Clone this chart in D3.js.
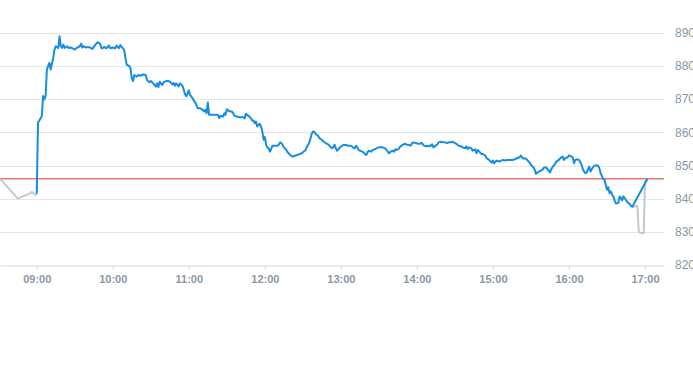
<!DOCTYPE html>
<html>
<head>
<meta charset="utf-8">
<script src="https://cdnjs.cloudflare.com/ajax/libs/d3/7.8.5/d3.min.js"></script>
<style>
  body { margin: 0; background: #fff; }
  svg { display: block; font-family: "Liberation Sans", Arial, sans-serif; }
</style>
</head>
<body>
<div id="chart"></div>
<script>
const prevClose = 846;
const yTicks = [820, 830, 840, 850, 860, 870, 880, 890];
const xTickLabels = ["09:00", "10:00", "11:00", "12:00", "13:00", "14:00", "15:00", "16:00", "17:00"];
const timeDomain = ["08:31", "17:15"];

// pre-market / after-close prints (grey)
const preMarket = [
  ["08:31", 846.0], ["08:45", 840.1], ["08:55", 841.6], ["08:56", 842.1],
  ["08:59", 841.1], ["09:00", 841.5]
];
const postMarket = [
  ["16:50", 837.6], ["16:54", 837.8], ["16:55", 830.5], ["16:56", 829.7],
  ["16:59", 829.6], ["17:00", 845.2], ["17:02", 846.0]
];

// main session (blue)
const session = [
  ["09:00", 841.5], ["09:01", 863], ["09:02", 863.5], ["09:04", 865], ["09:05", 871],
  ["09:06", 870], ["09:07", 871], ["09:08", 879], ["09:10", 881], ["09:11", 879],
  ["09:13", 882.5], ["09:14", 885], ["09:15", 886], ["09:17", 885.5], ["09:18", 889],
  ["09:19", 886], ["09:20", 885.5], ["09:21", 886.5], ["09:22", 885.5], ["09:24", 886],
  ["09:25", 885.5], ["09:27", 885.6], ["09:29", 885.2], ["09:30", 885], ["09:32", 885.6],
  ["09:34", 886], ["09:35", 886.8], ["09:36", 885.6], ["09:37", 886], ["09:39", 885.6],
  ["09:40", 885.8], ["09:42", 885.6], ["09:44", 885.2], ["09:45", 885.8], ["09:47", 886.8],
  ["09:48", 887.2], ["09:50", 886.8], ["09:51", 885.4], ["09:52", 885.4], ["09:53", 885.8],
  ["09:55", 885.4], ["09:56", 885.8], ["09:57", 886.2], ["09:58", 885.4], ["10:00", 885.6],
  ["10:02", 885.4], ["10:03", 886.2], ["10:05", 885.4], ["10:06", 886.4], ["10:07", 885.8],
  ["10:09", 884.9], ["10:10", 882.4], ["10:11", 880.4], ["10:13", 880.1], ["10:14", 879.3],
  ["10:15", 876.3], ["10:16", 875.5], ["10:17", 877.3], ["10:19", 876.8], ["10:20", 877.3],
  ["10:22", 877.1], ["10:24", 877.5], ["10:26", 877.3], ["10:27", 875.8], ["10:29", 875.1],
  ["10:30", 875.5], ["10:32", 874.8], ["10:34", 873.8], ["10:35", 874.8], ["10:36", 873.7],
  ["10:37", 875.3], ["10:39", 874.3], ["10:40", 875.1], ["10:42", 875.5], ["10:44", 875.5],
  ["10:45", 875.3], ["10:47", 874.5], ["10:48", 874.9], ["10:49", 874.1], ["10:50", 874.8],
  ["10:52", 873.9], ["10:53", 874.8], ["10:55", 874.1], ["10:56", 872.9], ["10:57", 871.5],
  ["10:58", 870.9], ["10:59", 871.8], ["11:00", 872.7], ["11:01", 871.3], ["11:03", 870.3],
  ["11:04", 869.5], ["11:05", 869.1], ["11:06", 868.3], ["11:07", 867.3], ["11:09", 867.3],
  ["11:11", 866.8], ["11:12", 866.3], ["11:13", 866.8], ["11:14", 865.8], ["11:15", 869.0],
  ["11:16", 865.3], ["11:17", 865.3], ["11:19", 865.3], ["11:21", 865.3], ["11:23", 865.3],
  ["11:24", 864.3], ["11:25", 865.0], ["11:27", 864.8], ["11:28", 865.8], ["11:29", 865.3],
  ["11:30", 867.0], ["11:31", 866.6], ["11:33", 866.3], ["11:34", 866.3], ["11:35", 865.8],
  ["11:36", 865.0], ["11:38", 864.8], ["11:39", 864.6], ["11:41", 864.6], ["11:43", 864.6],
  ["11:44", 864.2], ["11:45", 865.6], ["11:46", 865.3], ["11:47", 865.0], ["11:49", 864.3],
  ["11:50", 863.6], ["11:51", 863.6], ["11:52", 862.8], ["11:53", 863.3], ["11:54", 861.8],
  ["11:55", 862.3], ["11:56", 862.6], ["11:57", 861.8], ["11:58", 860.3], ["11:59", 857.8],
  ["12:00", 858.6], ["12:01", 856.3], ["12:02", 855.5], ["12:03", 855.2], ["12:04", 854.2],
  ["12:05", 855.0], ["12:06", 856.0], ["12:08", 856.0], ["12:10", 856.0], ["12:11", 856.3],
  ["12:12", 857.0], ["12:13", 856.8], ["12:14", 856.3], ["12:15", 855.5], ["12:17", 854.7],
  ["12:18", 854.0], ["12:20", 853.2], ["12:22", 852.7], ["12:23", 852.9], ["12:25", 853.1],
  ["12:26", 853.3], ["12:28", 853.5], ["12:30", 854.0], ["12:32", 854.6], ["12:33", 855.5],
  ["12:35", 856.8], ["12:36", 858.2], ["12:37", 859.6], ["12:38", 860.3], ["12:39", 860.2],
  ["12:40", 859.6], ["12:42", 859.0], ["12:43", 858.3], ["12:45", 857.8], ["12:46", 857.3],
  ["12:48", 856.8], ["12:50", 856.4], ["12:51", 856.0], ["12:53", 855.2], ["12:54", 855.5],
  ["12:55", 856.3], ["12:56", 855.2], ["12:57", 854.5], ["12:58", 854.9], ["12:59", 855.4],
  ["13:01", 856.0], ["13:02", 856.2], ["13:04", 856.2], ["13:06", 856.0], ["13:08", 856.0],
  ["13:10", 855.4], ["13:11", 855.2], ["13:12", 856.0], ["13:13", 855.5], ["13:14", 854.7],
  ["13:15", 854.5], ["13:17", 854.2], ["13:18", 853.9], ["13:20", 853.2], ["13:21", 853.9],
  ["13:22", 854.5], ["13:24", 854.2], ["13:25", 854.7], ["13:27", 854.9], ["13:28", 855.2],
  ["13:30", 855.5], ["13:32", 855.5], ["13:33", 855.5], ["13:35", 855.2], ["13:36", 854.7],
  ["13:38", 853.7], ["13:39", 854.1], ["13:41", 854.5], ["13:42", 854.2], ["13:43", 854.9],
  ["13:44", 854.7], ["13:46", 855.2], ["13:47", 855.8], ["13:49", 856.3], ["13:51", 856.6],
  ["13:52", 856.3], ["13:54", 856.2], ["13:55", 856.0], ["13:56", 856.6], ["13:57", 857.0],
  ["13:59", 856.8], ["14:01", 856.6], ["14:02", 856.6], ["14:04", 856.8], ["14:05", 856.2],
  ["14:07", 855.8], ["14:08", 856.0], ["14:10", 855.8], ["14:12", 856.4], ["14:13", 855.5],
  ["14:14", 855.8], ["14:16", 856.3], ["14:17", 857.0], ["14:19", 857.2], ["14:21", 857.0],
  ["14:22", 857.0], ["14:24", 856.8], ["14:25", 857.0], ["14:27", 857.0], ["14:28", 857.2],
  ["14:30", 856.8], ["14:32", 856.3], ["14:33", 856.0], ["14:35", 855.8], ["14:36", 855.5],
  ["14:38", 855.2], ["14:39", 855.8], ["14:40", 855.0], ["14:41", 855.5], ["14:43", 855.2],
  ["14:44", 854.5], ["14:46", 854.9], ["14:47", 853.7], ["14:48", 854.7], ["14:50", 853.9],
  ["14:51", 853.5], ["14:52", 853.5], ["14:54", 853.0], ["14:55", 852.2], ["14:56", 852.0],
  ["14:57", 851.7], ["14:59", 850.9], ["15:00", 851.5], ["15:01", 850.7], ["15:02", 851.2],
  ["15:03", 851.5], ["15:05", 851.2], ["15:06", 851.4], ["15:08", 851.7], ["15:09", 851.5],
  ["15:11", 851.7], ["15:13", 851.7], ["15:14", 851.7], ["15:16", 851.7], ["15:17", 851.9],
  ["15:19", 852.2], ["15:21", 852.5], ["15:22", 853.0], ["15:24", 852.1], ["15:26", 852.1],
  ["15:27", 851.7], ["15:29", 850.9], ["15:30", 850.2], ["15:32", 849.5], ["15:33", 848.7],
  ["15:34", 847.5], ["15:35", 847.9], ["15:37", 848.3], ["15:39", 848.7], ["15:40", 849.3],
  ["15:42", 849.5], ["15:43", 848.9], ["15:44", 848.5], ["15:45", 847.9], ["15:46", 848.9],
  ["15:47", 849.5], ["15:49", 850.5], ["15:50", 851.2], ["15:52", 851.7], ["15:53", 852.2],
  ["15:55", 852.7], ["15:56", 851.7], ["15:57", 852.2], ["15:59", 852.5], ["16:00", 853.1],
  ["16:02", 852.7], ["16:03", 852.5], ["16:04", 850.7], ["16:05", 851.7], ["16:06", 851.9],
  ["16:08", 851.7], ["16:10", 850.2], ["16:11", 848.9], ["16:12", 848.2], ["16:13", 847.7],
  ["16:14", 847.9], ["16:15", 848.9], ["16:16", 849.7], ["16:17", 848.2], ["16:18", 848.9],
  ["16:19", 849.5], ["16:20", 849.9], ["16:22", 850.1], ["16:23", 849.9], ["16:24", 849.2],
  ["16:25", 847.7], ["16:27", 845.9], ["16:28", 845.7], ["16:29", 844.2], ["16:30", 842.7],
  ["16:31", 843.5], ["16:32", 841.7], ["16:33", 842.2], ["16:34", 841.2], ["16:35", 840.7],
  ["16:36", 839.5], ["16:37", 838.6], ["16:38", 838.6], ["16:39", 838.8], ["16:40", 840.7],
  ["16:41", 840.2], ["16:42", 839.5], ["16:43", 840.7], ["16:44", 840.2], ["16:45", 839.5],
  ["16:46", 839.1], ["16:47", 838.6], ["16:48", 838.4], ["16:49", 837.8], ["16:50", 837.6],
  ["17:02", 846.0]
];

const width = 693;
const height = 365;
const plot = { left: 0, right: 664, top: 33, bottom: 265 };

const parseTime = d3.timeParse("%H:%M");

const svg = d3
  .select("#chart")
  .append("svg")
  .attr("width", width)
  .attr("height", height);

const x = d3
  .scaleTime()
  .domain(timeDomain.map(parseTime))
  .range([plot.left, plot.right]);

const y = d3
  .scaleLinear()
  .domain([820, 890])
  .range([plot.bottom, plot.top]);

// horizontal grid + right labels
const grid = svg.append("g");
yTicks.forEach((v) => {
  if (v !== 820) {
    grid
      .append("line")
      .attr("x1", plot.left)
      .attr("x2", plot.right)
      .attr("y1", Math.round(y(v)) + 0.5)
      .attr("y2", Math.round(y(v)) + 0.5)
      .attr("stroke", "#e6e6e6")
      .attr("stroke-width", 1);
  }
  grid
    .append("text")
    .attr("x", 675)
    .attr("y", y(v))
    .attr("dy", "0.35em")
    .attr("fill", "#8797a7")
    .style("font-size", "12px")
    .text(v);
});

// bottom axis
const xAxis = svg
  .append("g")
  .attr("transform", `translate(0, ${Math.round(plot.bottom) + 0.5})`)
  .call(
    d3
      .axisBottom(x)
      .tickValues(xTickLabels.map(parseTime))
      .tickFormat(d3.timeFormat("%H:%M"))
      .tickSizeInner(4)
      .tickSizeOuter(0)
  );
xAxis.select(".domain").attr("stroke", "#ccd6eb");
xAxis.selectAll(".tick line").attr("stroke", "#ccd6eb");
xAxis
  .selectAll(".tick text")
  .attr("fill", "#8c96a3")
  .attr("dy", "0.95em")
  .style("font-size", "11px")
  .style("font-weight", "bold")
  .style("font-family", '"Liberation Sans", Arial, sans-serif');

// previous close
svg
  .append("line")
  .attr("x1", plot.left)
  .attr("x2", plot.right)
  .attr("y1", y(prevClose))
  .attr("y2", y(prevClose))
  .attr("stroke", "#d0352d")
  .attr("stroke-width", 1);

const line = d3
  .line()
  .x((d) => x(parseTime(d[0])))
  .y((d) => y(d[1]));

[preMarket, postMarket].forEach((seg) => {
  svg
    .append("path")
    .datum(seg)
    .attr("d", line)
    .attr("fill", "none")
    .attr("stroke", "#bfc9d2")
    .attr("stroke-width", 2)
    .attr("stroke-linejoin", "round");
});

svg
  .append("path")
  .datum(session)
  .attr("d", line)
  .attr("fill", "none")
  .attr("stroke", "#168ddf")
  .attr("stroke-width", 2)
  .attr("stroke-linejoin", "round");
</script>
</body>
</html>
